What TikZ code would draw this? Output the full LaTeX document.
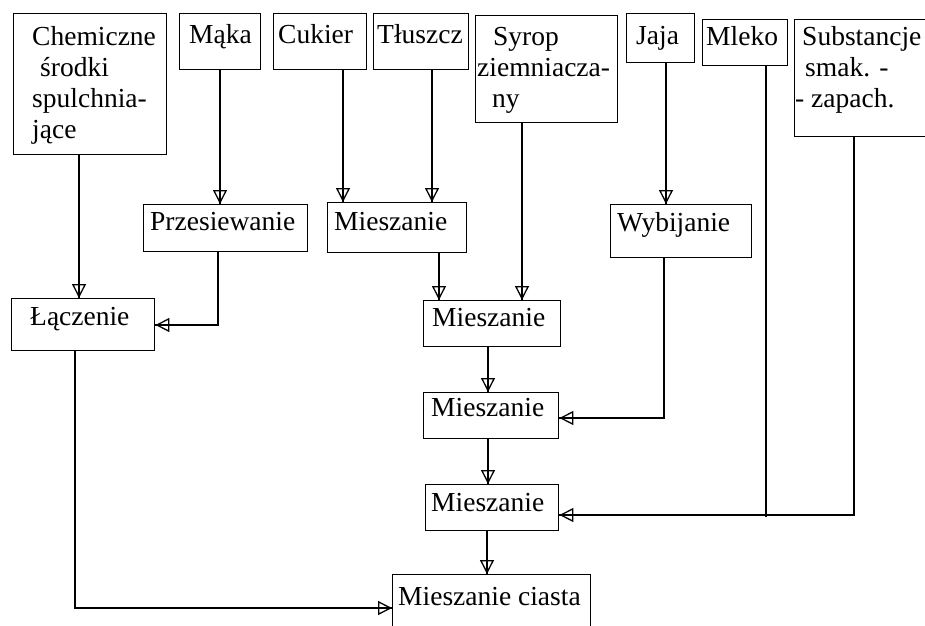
\documentclass[tikz,border=0pt]{standalone}
\usepackage{fontspec}
\setmainfont{Liberation Serif}
\usetikzlibrary{arrows.meta}
% stacked lines of a box label; the first line carries the baseline
\newcommand\boxlines[1]{\begin{tabular}[t]{@{}l@{}}#1\end{tabular}}

\begin{document}
\begin{tikzpicture}[x=1pt, y=-1pt,
  stage/.style={draw, line width=1.4pt, inner sep=0pt, anchor=north west},
  txt/.style={anchor=base west, inner sep=0pt, font=\fontsize{27.5}{31}\selectfont},
  wire/.style={line width=1.4pt},
  flow/.style={wire, -{Triangle[open, length=14pt, width=14pt, line width=1.3pt]},
               postaction={draw, wire, -}},
]
\useasboundingbox (0,0) rectangle (925,625);
\fill[white] (0,0) rectangle (925,625);
\clip (0,0) rectangle (925,625);

% --- raw materials (top row) ---
\node[stage, minimum width=153pt, minimum height=141pt] (chem)    at (13,13)  {};
\node[stage, minimum width=81pt,  minimum height=56pt]  (maka)    at (179,13) {};
\node[stage, minimum width=93pt,  minimum height=56pt]  (cukier)  at (273,13) {};
\node[stage, minimum width=95pt,  minimum height=56pt]  (tluszcz) at (373,13) {};
\node[stage, minimum width=142pt, minimum height=107pt] (syrop)   at (475,15) {};
\node[stage, minimum width=68pt,  minimum height=49pt]  (jaja)    at (626,13) {};
\node[stage, minimum width=85pt,  minimum height=46pt]  (mleko)   at (702,19) {};
\node[stage, minimum width=150pt, minimum height=117pt] (subst)   at (794,19) {};

\node[txt] (chem-t)    at (32,45)  {\boxlines{Chemiczne\\\hspace*{8pt}środki\\spulchnia-\\jące}};
\node[txt] (maka-t)    at (189,43) {Mąka};
\node[txt] (cukier-t)  at (278,43) {Cukier};
\node[txt] (tluszcz-t) at (377,43) {Tłuszcz};
\node[txt] (syrop-t)   at (477,45) {\boxlines{\hspace*{16pt}Syrop\\ziemniacza-\\\hspace*{15pt}ny}};
\node[txt] (jaja-t)    at (636,44) {Jaja};
\node[txt] (mleko-t)   at (706,45) {Mleko};
\node[txt] (subst-t)   at (795,45) {\boxlines{\hspace*{7pt}Substancje\\\hspace*{10pt}smak. -\\- zapach.}};

% --- process steps ---
\node[stage, minimum width=164pt, minimum height=47pt] (prz)    at (143,204) {};
\node[stage, minimum width=139pt, minimum height=50pt] (mie1)   at (327,202) {};
\node[stage, minimum width=141pt, minimum height=53pt] (wyb)    at (610,204) {};
\node[stage, minimum width=143pt, minimum height=52pt] (lacz)   at (11,298)  {};
\node[stage, minimum width=137pt, minimum height=46pt] (mie2)   at (423,300) {};
\node[stage, minimum width=135pt, minimum height=46pt] (mie3)   at (423,392) {};
\node[stage, minimum width=133pt, minimum height=46pt] (mie4)   at (425,484) {};
\node[stage, minimum width=198pt, minimum height=80pt] (ciasta) at (392,574) {};

\node[txt] (prz-t)    at (150,230) {Przesiewanie};
\node[txt] (mie1-t)   at (334,230) {Mieszanie};
\node[txt] (wyb-t)    at (617,231) {Wybijanie};
\node[txt] (lacz-t)   at (30,325)  {Łączenie};
\node[txt] (mie2-t)   at (432,326) {Mieszanie};
\node[txt] (mie3-t)   at (431,416) {Mieszanie};
\node[txt] (mie4-t)   at (431,511) {Mieszanie};
\node[txt] (ciasta-t) at (398,605) {Mieszanie ciasta};

% --- connector columns and bends ---
\coordinate (kChem) at (79,0);
\coordinate (kMaka) at (220,0);
\coordinate (kCuk)  at (343,0);
\coordinate (kTl)   at (432,0);
\coordinate (kSyr)  at (522,0);
\coordinate (kM1)   at (439,0);
\coordinate (kJaja) at (666,0);
\coordinate (kMid)  at (488,0);
\coordinate (kM4)   at (487,0);
\coordinate (kPrz)  at (218,325);
\coordinate (kLacz) at (75,608);
\coordinate (kWyb)  at (664,418);
\coordinate (kSub)  at (854,515);
\coordinate (kMl)   at (766,517);

% --- connectors ---
\draw[flow] (chem.south -| kChem) -- (lacz.north -| kChem);
\draw[flow] (maka.south -| kMaka) -- (prz.north -| kMaka);
\draw[flow] (cukier.south -| kCuk) -- (mie1.north -| kCuk);
\draw[flow] (tluszcz.south -| kTl) -- (mie1.north -| kTl);
\draw[flow] (syrop.south -| kSyr) -- (mie2.north -| kSyr);
\draw[flow] (mie1.south -| kM1) -- (mie2.north -| kM1);
\draw[flow] (jaja.south -| kJaja) -- (wyb.north -| kJaja);
\draw[flow] (prz.south -| kPrz) -- (kPrz) -- (lacz.east |- kPrz);
\draw[flow] (wyb.south -| kWyb) -- (kWyb) -- (mie3.east |- kWyb);
\draw[flow] (mie2.south -| kMid) -- (mie3.north -| kMid);
\draw[flow] (mie3.south -| kMid) -- (mie4.north -| kMid);
\draw[flow] (mie4.south -| kM4) -- (ciasta.north -| kM4);
\draw[wire] (mleko.south -| kMl) -- (kMl);
\draw[flow] (subst.south -| kSub) -- (kSub) -- (mie4.east |- kSub);
\draw[flow] (lacz.south -| kLacz) -- (kLacz) -- (ciasta.west |- kLacz);
\end{tikzpicture}
\end{document}
